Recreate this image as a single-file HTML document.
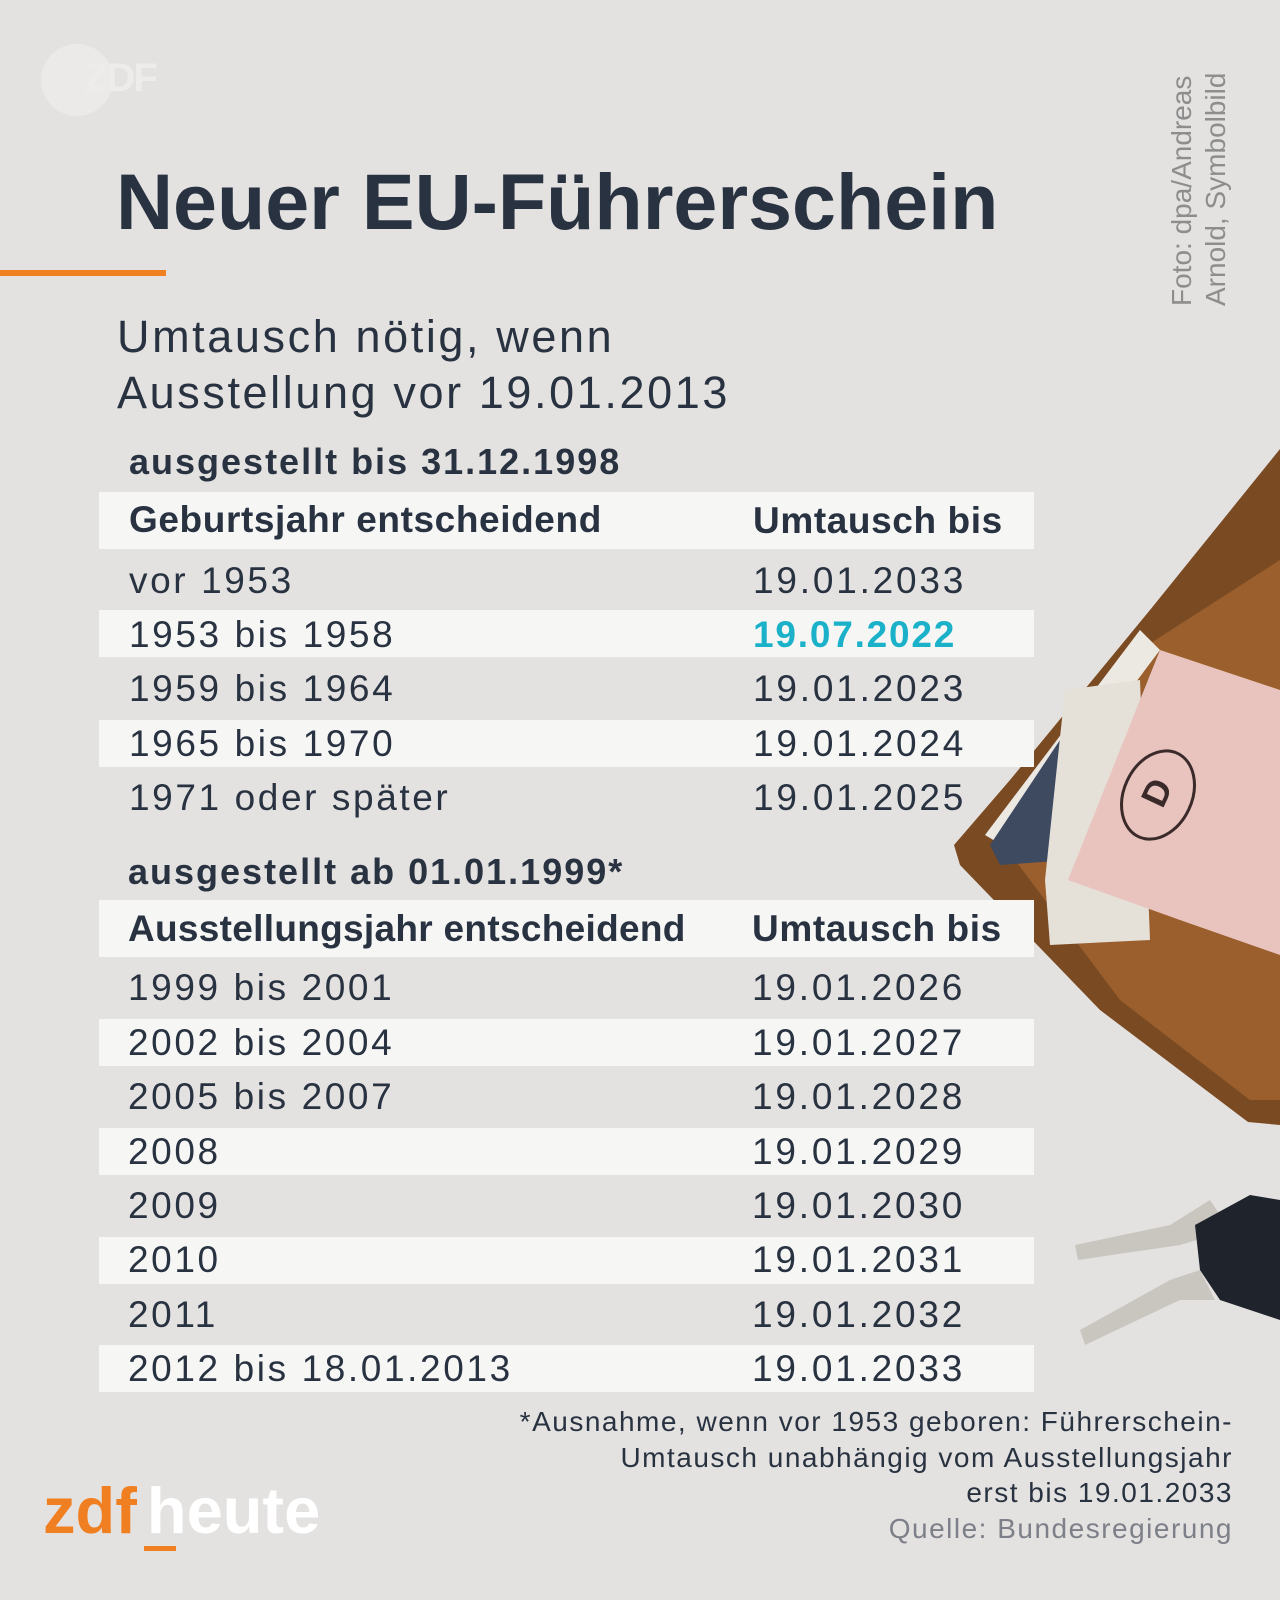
<!DOCTYPE html>
<html><head><meta charset="utf-8"><style>
body{margin:0;width:1280px;height:1600px;background:#e4e2e0;position:relative;overflow:hidden;font-family:"Liberation Sans",sans-serif;color:#283241}
.a{position:absolute;white-space:nowrap}
.stripe{position:absolute;left:99px;width:935px;background:#f6f6f5}
.r{position:absolute;font-size:37px;letter-spacing:2.6px;line-height:1}
.b{font-weight:bold;letter-spacing:0.6px}
.d{letter-spacing:2.8px}
</style></head><body>
<div class="a" style="left:41px;top:44px;width:72px;height:72px;border-radius:50%;background:#eceae8"></div>
<div class="a b" style="left:84px;top:56px;font-size:40px;color:#eeeceb;letter-spacing:-2px">ZDF</div>
<div class="a" style="left:116px;top:162px;font-size:79px;font-weight:bold;letter-spacing:0;line-height:1">Neuer EU-Führerschein</div>
<div class="a" style="left:0;top:270px;width:166px;height:6px;background:#f07f22"></div>
<div class="a" style="left:117px;top:309px;font-size:45px;letter-spacing:2.6px;line-height:56px">Umtausch nötig, wenn<br>Ausstellung vor 19.01.2013</div>
<div class="a" style="left:1165px;top:306px;transform:rotate(-90deg);transform-origin:0 0;font-size:28px;color:#8d8d8d;line-height:34px">Foto: dpa/Andreas<br>Arnold, Symbolbild</div>

<svg class="a" style="left:0;top:0" width="1280" height="1600">
<polygon points="954,845 1010,780 1150,610 1280,449 1280,1125 1248,1122 1100,1010 960,865" fill="#7a4a22"/>
<polygon points="1000,840 1140,650 1280,560 1280,1100 1250,1100 1120,1000" fill="#9a5f2c"/>
<polygon points="985,835 1140,630 1160,650 1010,850" fill="#ece8e2"/>
<polygon points="990,845 1060,740 1070,860 1000,865" fill="#3e4a60"/>
<polygon points="1065,690 1140,680 1150,940 1050,945 1045,880" fill="#e5e0d8"/>
<polygon points="1068,880 1160,650 1280,690 1280,955 1180,920" fill="#e9c4bf"/>
<ellipse cx="1158" cy="795" rx="34" ry="46" transform="rotate(25 1158 795)" fill="none" stroke="#3a2a2a" stroke-width="3"/>
<text x="1145" y="808" font-family="Liberation Sans" font-weight="bold" font-size="36" fill="#3a2a2a" transform="rotate(-65 1155 795)">D</text>
<polygon points="1075,1245 1170,1225 1210,1200 1230,1230 1180,1245 1078,1260" fill="#c9c6c0"/>
<polygon points="1080,1330 1170,1280 1200,1270 1215,1300 1180,1300 1085,1345" fill="#c9c6c0"/>
<polygon points="1195,1225 1250,1195 1280,1200 1280,1320 1220,1300 1200,1270" fill="#1e232c"/>
</svg>

<div class="a" style="left:129px;top:441px;font-size:36px;font-weight:bold;letter-spacing:2px">ausgestellt bis 31.12.1998</div>
<div class="stripe" style="top:492px;height:57px"></div>
<div class="stripe" style="top:610px;height:47px"></div>
<div class="stripe" style="top:720px;height:47px"></div>
<div class="r b" style="left:129px;top:501px">Geburtsjahr entscheidend</div>
<div class="r b" style="left:753px;top:502px">Umtausch bis</div>
<div class="r" style="left:129px;top:562px">vor 1953</div><div class="r d" style="left:753px;top:562px">19.01.2033</div>
<div class="r" style="left:129px;top:616px">1953 bis 1958</div><div class="r d" style="left:753px;top:616px;color:#1bb1c9;font-weight:bold;letter-spacing:1.8px">19.07.2022</div>
<div class="r" style="left:129px;top:670px">1959 bis 1964</div><div class="r d" style="left:753px;top:670px">19.01.2023</div>
<div class="r" style="left:129px;top:725px">1965 bis 1970</div><div class="r d" style="left:753px;top:725px">19.01.2024</div>
<div class="r" style="left:129px;top:779px">1971 oder später</div><div class="r d" style="left:753px;top:779px">19.01.2025</div>

<div class="a" style="left:128px;top:851px;font-size:36px;font-weight:bold;letter-spacing:2px">ausgestellt ab 01.01.1999*</div>
<div class="stripe" style="top:900px;height:57px"></div>
<div class="stripe" style="top:1019px;height:47px"></div>
<div class="stripe" style="top:1128px;height:47px"></div>
<div class="stripe" style="top:1237px;height:47px"></div>
<div class="stripe" style="top:1345px;height:47px"></div>
<div class="r b" style="left:128px;top:910px;letter-spacing:0.3px">Ausstellungsjahr entscheidend</div>
<div class="r b" style="left:752px;top:910px">Umtausch bis</div>
<div class="r" style="left:128px;top:969px">1999 bis 2001</div><div class="r d" style="left:752px;top:969px">19.01.2026</div>
<div class="r" style="left:128px;top:1024px">2002 bis 2004</div><div class="r d" style="left:752px;top:1024px">19.01.2027</div>
<div class="r" style="left:128px;top:1078px">2005 bis 2007</div><div class="r d" style="left:752px;top:1078px">19.01.2028</div>
<div class="r" style="left:128px;top:1133px">2008</div><div class="r d" style="left:752px;top:1133px">19.01.2029</div>
<div class="r" style="left:128px;top:1187px">2009</div><div class="r d" style="left:752px;top:1187px">19.01.2030</div>
<div class="r" style="left:128px;top:1241px">2010</div><div class="r d" style="left:752px;top:1241px">19.01.2031</div>
<div class="r" style="left:128px;top:1296px">2011</div><div class="r d" style="left:752px;top:1296px">19.01.2032</div>
<div class="r" style="left:128px;top:1350px">2012 bis 18.01.2013</div><div class="r d" style="left:752px;top:1350px">19.01.2033</div>

<div class="a" style="right:47px;top:1404px;text-align:right;font-size:28px;letter-spacing:1.5px;line-height:35.5px">*Ausnahme, wenn vor 1953 geboren: Führerschein-<br>Umtausch unabhängig vom Ausstellungsjahr<br>erst bis 19.01.2033<br><span style="color:#7d8088">Quelle: Bundesregierung</span></div>

<div class="a" style="left:43px;top:1478px;font-size:65px;font-weight:bold;letter-spacing:0;line-height:1"><span style="color:#f07f22">zdf</span><span style="color:#fff;margin-left:10px">heute</span></div>
<div class="a" style="left:144px;top:1546px;width:32px;height:5px;background:#f07f22"></div>
</body></html>
